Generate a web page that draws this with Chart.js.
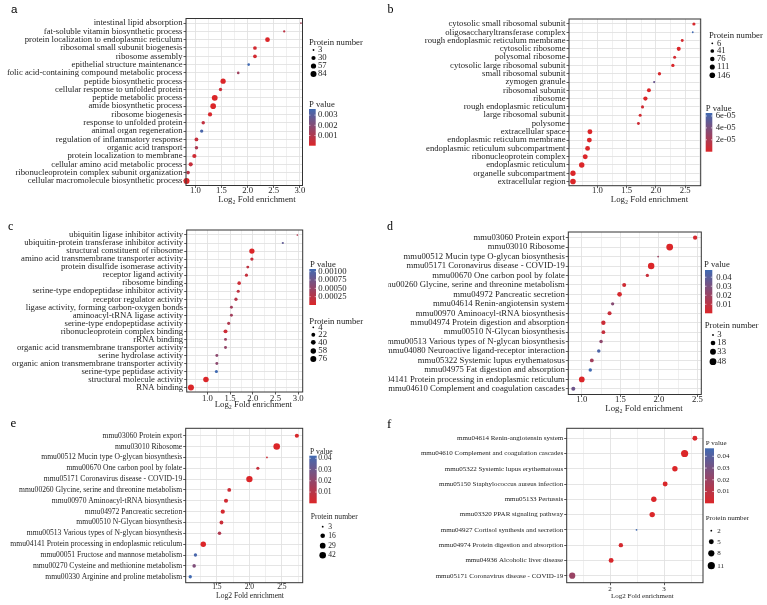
<!DOCTYPE html>
<html><head><meta charset="utf-8">
<script src="https://cdn.jsdelivr.net/npm/chart.js@4"></script>
<style>
html,body{margin:0;padding:0;background:#fff;width:767px;height:605px;overflow:hidden}
canvas{position:absolute;left:0;top:0}
</style></head><body>
<script>
// ---------------- DATA ----------------
const aCategories = ['intestinal lipid absorption','fat-soluble vitamin biosynthetic process','protein localization to endoplasmic reticulum','ribosomal small subunit biogenesis','ribosome assembly','epithelial structure maintenance','folic acid-containing compound metabolic process','peptide biosynthetic process','cellular response to unfolded protein','peptide metabolic process','amide biosynthetic process','ribosome biogenesis','response to unfolded protein','animal organ regeneration','regulation of inflammatory response','organic acid transport','protein localization to membrane','cellular amino acid metabolic process','ribonucleoprotein complex subunit organization','cellular macromolecule biosynthetic process'];
const aFold = [3.02,2.70,2.38,2.14,2.14,2.02,1.82,1.53,1.48,1.37,1.34,1.28,1.15,1.12,1.02,1.02,0.98,0.91,0.86,0.83];
const aCount = [3,4,42,20,20,6,6,57,14,78,70,30,16,14,22,16,30,28,18,84];
const aPval = [0.0012,0.0007,0.00001,0.0002,0.0002,0.0036,0.0014,1e-6,0.0004,1e-6,1e-6,0.0001,0.0006,0.0034,0.0005,0.0011,0.0003,0.0005,0.0008,1e-9];
const aSizeBreaks = [3,30,57,84];
const aPBreaks = [0.003,0.002,0.001];
const aPLabels = ['0.003','0.002','0.001'];

const bCategories = ['cytosolic small ribosomal subunit','oligosaccharyltransferase complex','rough endoplasmic reticulum membrane','cytosolic ribosome','polysomal ribosome','cytosolic large ribosomal subunit','small ribosomal subunit','zymogen granule','ribosomal subunit','ribosome','rough endoplasmic reticulum','large ribosomal subunit','polysome','extracellular space','endoplasmic reticulum membrane','endoplasmic reticulum subcompartment','ribonucleoprotein complex','endoplasmic reticulum','organelle subcompartment','extracellular region'];
const bFold = [2.65,2.63,2.45,2.39,2.32,2.29,2.06,1.97,1.88,1.82,1.77,1.73,1.70,0.87,0.86,0.83,0.79,0.73,0.58,0.58];
const bCount = [25,6,18,55,20,28,28,8,50,65,22,20,18,100,100,95,105,135,125,146];
const bPval = [2e-6,6.5e-5,3e-6,1e-7,4e-6,1e-6,2e-6,4.8e-5,1e-8,1e-8,5e-6,4e-6,6e-6,1e-10,1e-10,1e-10,1e-10,1e-11,1e-11,1e-12];
const bSizeBreaks = [6,41,76,111,146];
const bPBreaks = [6e-5,4e-5,2e-5];
const bPLabels = ['6e-05','4e-05','2e-05'];

const cCategories = ['ubiquitin ligase inhibitor activity','ubiquitin-protein transferase inhibitor activity','structural constituent of ribosome','amino acid transmembrane transporter activity','protein disulfide isomerase activity','receptor ligand activity','ribosome binding','serine-type endopeptidase inhibitor activity','receptor regulator activity','ligase activity, forming carbon-oxygen bonds','aminoacyl-tRNA ligase activity','serine-type endopeptidase activity','ribonucleoprotein complex binding','rRNA binding','organic acid transmembrane transporter activity','serine hydrolase activity','organic anion transmembrane transporter activity','serine-type peptidase activity','structural molecule activity','RNA binding'];
const cFold = [2.98,2.66,1.98,1.98,1.89,1.86,1.70,1.68,1.63,1.53,1.53,1.47,1.40,1.40,1.40,1.21,1.21,1.20,0.97,0.64];
const cCount = [4,5,55,14,10,12,18,12,14,10,10,12,24,10,10,10,10,12,60,76];
const cPval = [0.0003,0.00085,1e-10,0.00015,0.0002,0.00015,0.0001,0.0002,0.00025,0.0004,0.0004,0.0003,0.0001,0.00045,0.0005,0.00055,0.00055,0.00108,1e-6,1e-12];
const cSizeBreaks = [4,22,40,58,76];
const cPBreaks = [0.001,0.00075,0.0005,0.00025];
const cPLabels = ['0.00100','0.00075','0.00050','0.00025'];

const dCategories = ['mmu03060 Protein export','mmu03010 Ribosome','mmu00512 Mucin type O-glycan biosynthesis','mmu05171 Coronavirus disease - COVID-19','mmu00670 One carbon pool by folate','mmu00260 Glycine, serine and threonine metabolism','mmu04972 Pancreatic secretion','mmu04614 Renin-angiotensin system','mmu00970 Aminoacyl-tRNA biosynthesis','mmu04974 Protein digestion and absorption','mmu00510 N-Glycan biosynthesis','mmu00513 Various types of N-glycan biosynthesis','mmu04080 Neuroactive ligand-receptor interaction','mmu05322 Systemic lupus erythematosus','mmu04975 Fat digestion and absorption','mmu04141 Protein processing in endoplasmic reticulum','mmu04610 Complement and coagulation cascades'];
const dFold = [2.47,2.14,1.99,1.90,1.85,1.55,1.49,1.40,1.36,1.28,1.28,1.25,1.22,1.13,1.11,1.00,0.89];
const dCount = [14,48,3,42,7,12,18,7,12,15,10,8,8,10,8,30,12];
const dPval = [0.002,1e-10,0.02,1e-8,0.006,0.004,0.002,0.026,0.006,0.005,0.007,0.024,0.044,0.018,0.048,1e-5,0.034];
const dSizeBreaks = [3,18,33,48];
const dPBreaks = [0.04,0.03,0.02,0.01];
const dPLabels = ['0.04','0.03','0.02','0.01'];

const eCategories = ['mmu03060 Protein export','mmu03010 Ribosome','mmu00512 Mucin type O-glycan biosynthesis','mmu00670 One carbon pool by folate','mmu05171 Coronavirus disease - COVID-19','mmu00260 Glycine, serine and threonine metabolism','mmu00970 Aminoacyl-tRNA biosynthesis','mmu04972 Pancreatic secretion','mmu00510 N-Glycan biosynthesis','mmu00513 Various types of N-glycan biosynthesis','mmu04141 Protein processing in endoplasmic reticulum','mmu00051 Fructose and mannose metabolism','mmu00270 Cysteine and methionine metabolism','mmu00330 Arginine and proline metabolism'];
const eFold = [2.73,2.42,2.27,2.13,2.00,1.69,1.64,1.59,1.57,1.54,1.29,1.17,1.15,1.09];
const eCount = [12,42,3,6,38,10,12,13,10,8,26,7,8,7];
const ePval = [0.001,1e-10,0.004,0.006,1e-7,0.004,0.003,0.002,0.005,0.012,1e-4,0.040,0.025,0.0423];
const eSizeBreaks = [3,16,29,42];
const ePBreaks = [0.04,0.03,0.02,0.01];
const ePLabels = ['0.04','0.03','0.02','0.01'];

const fCategories = ['mmu04614 Renin-angiotensin system','mmu04610 Complement and coagulation cascades','mmu05322 Systemic lupus erythematosus','mmu05150 Staphylococcus aureus infection','mmu05133 Pertussis','mmu03320 PPAR signaling pathway','mmu04927 Cortisol synthesis and secretion','mmu04974 Protein digestion and absorption','mmu04936 Alcoholic liver disease','mmu05171 Coronavirus disease - COVID-19'];
const fFold = [3.57,3.38,3.20,3.02,2.81,2.78,2.49,2.20,2.02,1.30];
const fCount = [5,11,6,5,6,6,2,4,5,8];
const fPval = [0.001,1e-6,0.0001,0.0005,0.0003,0.0004,0.0468,0.002,0.001,0.02];
const fSizeBreaks = [2,5,8,11];
const fPBreaks = [0.04,0.03,0.02,0.01];
const fPLabels = ['0.04','0.03','0.02','0.01'];

// ---------------- STYLE / LAYOUT ----------------
const FONT = '"Liberation Serif","Times New Roman",serif';
const TXT = '#1e1e1e';
const RED = [219,38,41], BLUE = [64,106,178];
function mix(t){ t=Math.max(0,Math.min(1,t)); const c=RED.map((r,i)=>Math.round(r+(BLUE[i]-r)*t)); return 'rgb('+c.join(',')+')'; }

const panels = [
 {cats:aCategories, fold:aFold, count:aCount, pval:aPval, sizeBreaks:aSizeBreaks, pBreaks:aPBreaks, pLabels:aPLabels,
  plot:[186,302.5,18.5,185.5], xr:[0.82,3.05], major:0.5, minor:0.25, dec:1, ypad:[0.55,0.55], fs:8.7, xoff:5.2, d:[1.8,6],
  xtitle:'Log\u2082 Fold enrichment', xt:[257,199.5], tfs:8.8,
  letter:{t:'a', x:11, y:12.7, font:'11.5px "Liberation Sans", Arial, sans-serif'},
  sizeLeg:{title:[309,42.7], ys:[50,58,66,74], dotX:313.5, labX:318},
  colLeg:{title:[309,104.3], x:[309,315.7], y:[109,145.7], labX:318}},
 {cats:bCategories, fold:bFold, count:bCount, pval:bPval, sizeBreaks:bSizeBreaks, pBreaks:bPBreaks, pLabels:bPLabels,
  plot:[569,700.7,19,185.7], xr:[0.512,2.766], major:0.5, minor:0.25, dec:1, ypad:[0.6,0.5], fs:8.7, xoff:5, d:[1.8,5.6],
  xtitle:'Log\u2082 Fold enrichment', xt:[649.5,199.3], tfs:8.8,
  letter:{t:'b', x:387.5, y:13.3, font:'12px '+FONT},
  sizeLeg:{title:[709,36], ys:[43.3,51,59,67,75.3], dotX:712.3, labX:717},
  colLeg:{title:[705.7,109], x:[705.7,712.3], y:[113,151.7], labX:715.7}},
 {cats:cCategories, fold:cFold, count:cCount, pval:cPval, sizeBreaks:cSizeBreaks, pBreaks:cPBreaks, pLabels:cPLabels,
  plot:[186.7,302.7,230,392], xr:[0.547,3.097], major:0.5, minor:0.25, dec:1, ypad:[0.62,0.55], fs:8.7, xoff:6.3, d:[1.7,6],
  xtitle:'Log\u2082 Fold enrichment', xt:[253.3,405], tfs:8.8,
  letter:{t:'c', x:8, y:230, font:'12px '+FONT},
  sizeLeg:{title:[309.3,321.7], ys:[327.3,334.7,342.3,351,359], dotX:313.3, labX:318.3},
  colLeg:{title:[310,264.3], x:[309.3,316], y:[269,305], labX:318.3}},
 {cats:dCategories, fold:dFold, count:dCount, pval:dPval, sizeBreaks:dSizeBreaks, pBreaks:dPBreaks, pLabels:dPLabels,
  plot:[568.3,701.3,232,394.5], xr:[0.825,2.55], major:0.5, minor:0.25, dec:1, ypad:[0.6,0.6], fs:8.7, xoff:5.2, d:[1.8,6.8],
  xtitle:'Log\u2082 Fold enrichment', xt:[644,408.3], tfs:8.8,
  letter:{t:'d', x:387, y:230, font:'12px '+FONT},
  sizeLeg:{title:[704.7,325.7], ys:[335,343,351.7,361.7], dotX:713, labX:717.3},
  colLeg:{title:[704,265], x:[705,712.3], y:[270,313.3], labX:716.3}},
 {cats:eCategories, fold:eFold, count:eCount, pval:ePval, sizeBreaks:eSizeBreaks, pBreaks:ePBreaks, pLabels:ePLabels,
  plot:[185.7,302.7,428.3,582.7], xr:[1.02,2.82], major:0.5, minor:0.25, dec:1, ypad:[0.68,0.55], fs:7.6, xoff:4.2, d:[1.8,6.6],
  xtitle:'Log2 Fold enrichment', xt:[250,596], tfs:7.6,
  letter:{t:'e', x:10.5, y:426.5, font:'13px '+FONT},
  sizeLeg:{title:[310.7,516.7], ys:[526.7,535.7,545.7,555.3], dotX:322.7, labX:328.3},
  colLeg:{title:[310,451.7], x:[309.3,316.7], y:[455.7,503.3], labX:318.3}},
 {cats:fCategories, fold:fFold, count:fCount, pval:fPval, sizeBreaks:fSizeBreaks, pBreaks:fPBreaks, pLabels:fPLabels,
  plot:[566.7,703,428.3,582.7], xr:[1.198,3.72], major:1, minor:0.5, dec:0, ypad:[0.65,0.46], fs:7, xoff:6.6, d:[1.8,7.2],
  xtitle:'Log2 Fold enrichment', xt:[642.3,596], tfs:7,
  letter:{t:'f', x:387, y:428, font:'13px '+FONT},
  sizeLeg:{title:[705.7,518.3], ys:[530.7,541.7,553.3,565.7], dotX:711.3, labX:717.3},
  colLeg:{title:[705.7,443.3], x:[705,714], y:[448.3,503.3], labX:717.3}}
];

function makeChart(P){
  const cvs=document.createElement('canvas'); cvs.width=767; cvs.height=605; document.body.appendChild(cvs);
  const n=P.cats.length;
  const nMin=Math.min(...P.count), nMax=Math.max(...P.count);
  const pMin=Math.min(...P.pval), pMax=Math.max(...P.pval);
  const rad = c => (P.d[0]+(P.d[1]-P.d[0])*Math.sqrt(Math.max(0,(c-nMin)/(nMax-nMin))))/2;
  const col = p => mix((p-pMin)/(pMax-pMin));
  const [x0,x1,y0,y1]=P.plot;
  const YW=180, XH=10, TL=2.5;
  const isMajor = v => Math.abs(v/P.major - Math.round(v/P.major))<1e-6;
  const xticks=[];
  for(let k=Math.ceil(P.xr[0]/P.minor-1e-9); k*P.minor<=P.xr[1]+1e-9; k++) xticks.push(+(k*P.minor).toFixed(6));
  const tickFont={family:FONT,size:P.fs,lineHeight:1};
  new Chart(cvs,{
    type:'bubble',
    data:{datasets:[{
      data:P.fold.map((x,i)=>({x:x, y:i, r:rad(P.count[i])})),
      backgroundColor:P.pval.map(col), borderWidth:0, hoverBorderWidth:0, hoverRadius:0, clip:false}]},
    options:{
      responsive:false, animation:false, events:[],
      layout:{padding:{left:x0-YW, right:767-x1, top:y0, bottom:605-y1-XH}},
      plugins:{legend:{display:false}, tooltip:{enabled:false}},
      scales:{
        x:{type:'linear', min:P.xr[0], max:P.xr[1],
          afterBuildTicks:s=>{ s.ticks=xticks.map(v=>({value:v})); },
          afterFit:s=>{ s.height=XH; },
          ticks:{autoSkip:false, maxRotation:0, minRotation:0, padding:P.xoff-TL-P.fs/2, color:TXT, font:tickFont,
                 callback:v=>isMajor(v)?Number(v).toFixed(P.dec):''},
          grid:{color:'#e0e0e0', lineWidth:c=>(c.tick&&!isMajor(c.tick.value))?0.5:0.85, tickLength:TL, tickWidth:0.8,
                tickColor:c=>(c.tick&&isMajor(c.tick.value))?'#333':'rgba(0,0,0,0)'},
          border:{display:false}},
        y:{type:'linear', reverse:true, min:-P.ypad[0], max:n-1+P.ypad[1],
          afterBuildTicks:s=>{ s.ticks=P.cats.map((_,i)=>({value:i})); },
          afterFit:s=>{ s.width=YW; },
          ticks:{autoSkip:false, padding:1, color:TXT, font:tickFont, callback:v=>P.cats[Math.round(v)]},
          grid:{color:'#e0e0e0', lineWidth:0.85, tickLength:TL, tickWidth:0.8, tickColor:'#333'},
          border:{display:false}}
      }
    },
    plugins:[{id:'deco', afterDraw(chart){
      const ctx=chart.ctx, a=chart.chartArea;
      ctx.save();
      ctx.strokeStyle='#333'; ctx.lineWidth=1;
      ctx.strokeRect(a.left,a.top,a.right-a.left,a.bottom-a.top);
      ctx.fillStyle=TXT; ctx.textBaseline='middle'; ctx.textAlign='center';
      ctx.font=P.tfs+'px '+FONT;
      ctx.fillText(P.xtitle, P.xt[0], P.xt[1]);
      ctx.textAlign='left'; ctx.textBaseline='alphabetic'; ctx.font=P.letter.font; ctx.fillStyle='#000';
      ctx.fillText(P.letter.t, P.letter.x, P.letter.y);
      ctx.textBaseline='middle'; ctx.font=P.fs+'px '+FONT; ctx.fillStyle=TXT;
      const S=P.sizeLeg;
      ctx.fillText('Protein number', S.title[0], S.title[1]);
      P.sizeBreaks.forEach((v,i)=>{
        ctx.beginPath(); ctx.arc(S.dotX, S.ys[i], rad(v), 0, Math.PI*2); ctx.fillStyle='#000'; ctx.fill();
        ctx.fillStyle=TXT; ctx.fillText(String(v), S.labX, S.ys[i]);
      });
      const C=P.colLeg;
      ctx.fillText('P value', C.title[0], C.title[1]);
      const g=ctx.createLinearGradient(0,C.y[0],0,C.y[1]);
      for(let k=0;k<=10;k++) g.addColorStop(k/10, mix(1-k/10));
      ctx.fillStyle=g; ctx.fillRect(C.x[0],C.y[0],C.x[1]-C.x[0],C.y[1]-C.y[0]);
      const bw=C.x[1]-C.x[0];
      P.pBreaks.forEach((v,i)=>{
        const y=C.y[1]-(v-pMin)/(pMax-pMin)*(C.y[1]-C.y[0]);
        ctx.strokeStyle='#fff'; ctx.lineWidth=0.6;
        ctx.beginPath(); ctx.moveTo(C.x[0],y); ctx.lineTo(C.x[0]+bw*0.2,y);
        ctx.moveTo(C.x[1]-bw*0.2,y); ctx.lineTo(C.x[1],y); ctx.stroke();
        ctx.fillStyle=TXT; ctx.fillText(P.pLabels[i], C.labX, y);
      });
      ctx.restore();
    }}]
  });
}
panels.forEach(makeChart);
</script>
</body></html>
